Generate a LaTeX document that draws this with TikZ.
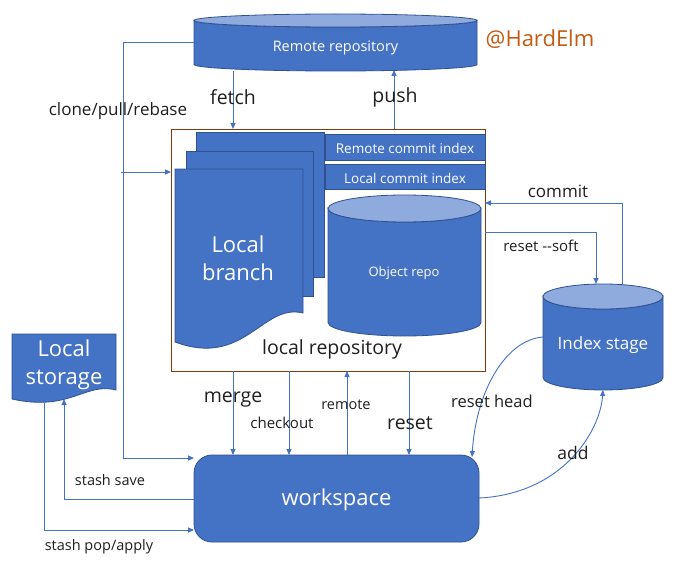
\documentclass[tikz,border=0pt]{standalone}
\usepackage{fontspec}
\setmainfont{Open Sans}
\usetikzlibrary{arrows.meta,calc}
\definecolor{fillb}{HTML}{4472C4}
\definecolor{edgeb}{HTML}{2F528F}
\definecolor{topb}{HTML}{8FAADC}
\definecolor{lineb}{HTML}{4472C4}
\definecolor{repob}{HTML}{843C0C}
\definecolor{signc}{HTML}{C55A11}
\newcommand\fsz[1]{\fontsize{#1}{#1}\selectfont}
\newcommand\cylshape[5]{%
  \path[shapefill] (#1-#4,#2+#5) -- (#1-#4,#3-#5)
    arc[start angle=180,end angle=360,x radius=#4pt,y radius=#5pt]
    -- (#1+#4,#2+#5)
    arc[start angle=0,end angle=-180,x radius=#4pt,y radius=#5pt] -- cycle;
  \path[capfill] (#1,#2+#5) ellipse[x radius=#4pt,y radius=#5pt];
}
\tikzset{
  shapefill/.style={fill=fillb, draw=edgeb, line width=0.8pt},
  capfill/.style={fill=topb, draw=edgeb, line width=0.8pt},
  area/.style={inner sep=0pt, outer sep=0pt, anchor=north west},
  conn/.style={draw=lineb, line width=0.9pt},
  arr/.style={conn, -{Triangle[length=6pt,width=5pt]}},
  lbl/.style={text=black!88, inner sep=0pt, yshift=-1.5pt},
  wtxt/.style={text=white, inner sep=0pt, align=center, yshift=-1.5pt},
  bigtwo/.style={wtxt, font=\fontsize{22}{28}\selectfont},
}
\begin{document}
\begin{tikzpicture}[x=1pt,y=-1pt]
\useasboundingbox (0,0) rectangle (677,567);
\fill[white] (0,0) rectangle (677,567);

% ---------- shapes ----------
% remote repository
\cylshape{335.5}{14}{71}{141.5}{6.5}
\node[area, minimum width=283pt, minimum height=57pt] (remote) at (194,14) {};
\node[wtxt] (remotet) at (335.5,46) {\fsz{14.5}Remote repository};
\node[text=signc, inner sep=0pt, yshift=-1.5pt] (sign) at (540,38) {\fsz{22}@HardElm};

% local repository box
\node[area, draw=repob, line width=0.9pt, minimum width=314pt, minimum height=242pt] (lrepo) at (171,129) {};
\node[lbl] (lrepot) at (332,348) {\fsz{19.5}local repository};

% local branch pages
\path[shapefill] (196,132) rectangle (324,277);
\path[shapefill] (186,151) rectangle (313,296);
\path[shapefill] (175,169) -- (303,169) -- (303,313) .. controls (262,303) and (245,368) .. (175,342) -- cycle;
\node[bigtwo] (branch) at (238,257) {Local\\branch};

% commit index boxes
\node[area, shapefill, minimum width=160pt, minimum height=26pt] (rci) at (325,134) {};
\node[wtxt] at (rci.center) {\fsz{13.5}Remote commit index};
\node[area, shapefill, minimum width=160pt, minimum height=25pt] (lci) at (325,164) {};
\node[wtxt] at (lci.center) {\fsz{13.5}Local commit index};

% object repo
\cylshape{404.5}{195}{336}{76.5}{13.5}
\node[area, minimum width=153pt, minimum height=141pt] (obj) at (328,195) {};
\node[wtxt] (objt) at (404,272) {\fsz{13}Object repo};

% index stage
\cylshape{603}{284}{390}{60}{12.5}
\node[area, minimum width=120pt, minimum height=106pt] (idx) at (543,284) {};
\node[wtxt] (idxt) at (603,344) {\fsz{17}Index stage};

% local storage
\path[shapefill] (12,334) -- (116,334) -- (116,390) .. controls (85,382) and (70,412) .. (12,399) -- cycle;
\node[area, minimum width=104pt, minimum height=69pt] (ls) at (12,334) {};
\node[bigtwo] (lst) at (64,363) {Local\\storage};

% workspace
\node[area, shapefill, rounded corners=18pt, minimum width=285pt, minimum height=87pt] (ws) at (194,455) {};
\node[wtxt] (wst) at (ws.center) {\fsz{22}workspace};

% ---------- connectors ----------
\coordinate (cl) at (123,42.5);
\draw[conn] (remote.west |- cl) -- (cl);
\draw[arr] (cl) |- ($(ws.north west)+(0,3)$);
\draw[arr] (121,172) -- (lrepo.west |- 0,172);

\draw[arr] (remote.south -| 233,0) -- (lrepo.north -| 233,0);
\draw[arr] (lrepo.north -| 394,0) -- ($(remote.south -| 394,0)+(0,-1)$);

\draw[arr] (lrepo.south -| 233,0) -- (ws.north -| 233,0);
\draw[arr] (lrepo.south -| 289,0) -- (ws.north -| 289,0);
\draw[arr] (ws.north -| 347,0) -- (lrepo.south -| 347,0);
\draw[arr] (lrepo.south -| 409,0) -- (ws.north -| 409,0);

\draw[arr] ($(idx.north -| 622,0)+(0,1)$) |- (lrepo.east |- 0,203);
\draw[arr] (lrepo.east |- 0,232) -| (idx.north -| 596,0);

\draw[arr] (idx.west |- 0,337) .. controls (505,340) and (476,392) .. (472,457);
\draw[arr] (ws.east |- 0,498) .. controls (562,494) and (600,432) .. (idx.south);

\coordinate (lsa) at (64,399);
\coordinate (lsb) at (44,403);
\draw[arr] (ws.west |- 0,499) -| (lsa);
\draw[arr] (lsb) |- (ws.west |- 0,530);

% ---------- labels ----------
\node[lbl] at (118,110) {\fsz{17}clone/pull/rebase};
\node[lbl] at (233,96) {\fsz{19.5}fetch};
\node[lbl] at (395,96) {\fsz{19.5}push};
\node[lbl] at (233,398) {\fsz{19.5}merge};
\node[lbl] at (282,421) {\fsz{15}checkout};
\node[lbl] at (346,403) {\fsz{14.5}remote};
\node[lbl] at (410,422) {\fsz{19.5}reset};
\node[lbl] at (558,190) {\fsz{17}commit};
\node[lbl] at (541,244) {\fsz{15}reset -{}-soft};
\node[lbl] at (492,400) {\fsz{16.5}reset head};
\node[lbl] at (573,451) {\fsz{17.5}add};
\node[lbl] at (110,479) {\fsz{14.5}stash save};
\node[lbl] at (99,545) {\fsz{14.5}stash pop/apply};
\end{tikzpicture}
\end{document}
